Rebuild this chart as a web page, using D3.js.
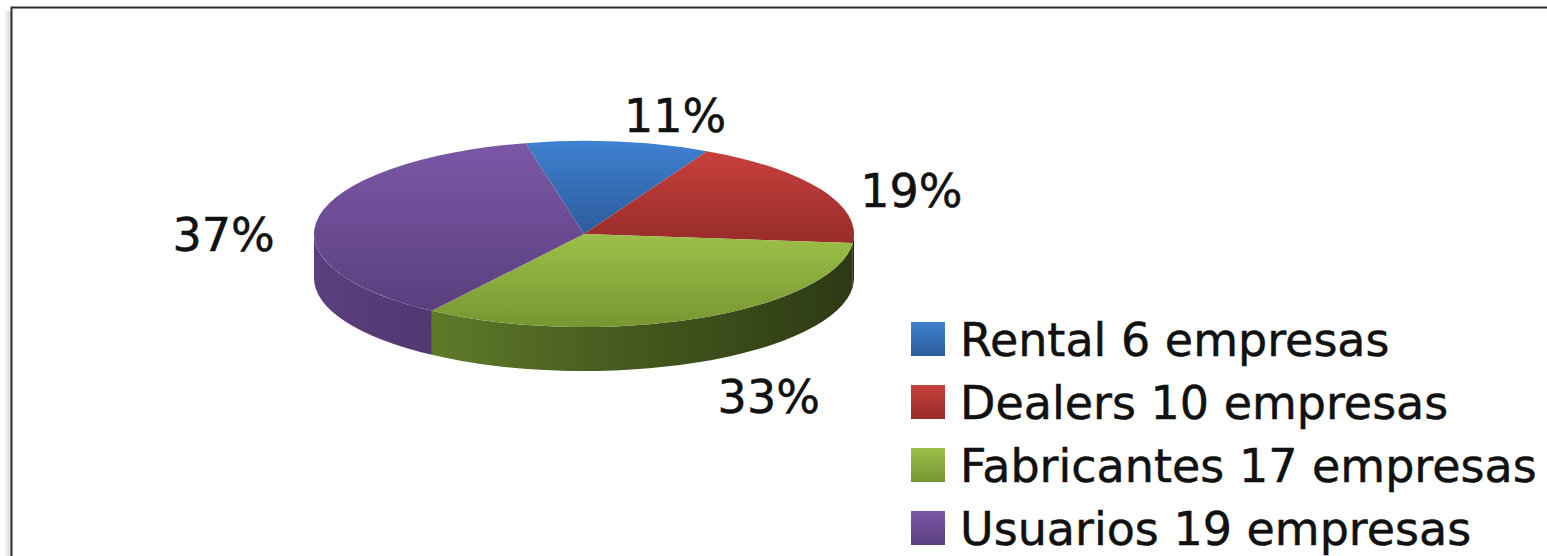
<!DOCTYPE html>
<html>
<head>
<meta charset="utf-8">
<script src="https://cdn.jsdelivr.net/npm/d3@7"></script>
<style>
  html, body { margin: 0; padding: 0; background: #fff; overflow: hidden; }
  text { font-family: "DejaVu Sans", Verdana, sans-serif; fill: #111; stroke: #111; stroke-width: 0.5px; }
</style>
</head>
<body>
<div id="chart"></div>
<script>
// data
const categories = ["Rental", "Dealers", "Fabricantes", "Usuarios"];
const shares = [11, 19, 33, 37];
const legendLabels = ["Rental 6 empresas", "Dealers 10 empresas", "Fabricantes 17 empresas", "Usuarios 19 empresas"];

// excel 2007 style gradient colours (light top, dark bottom) and side colours (left, right)
const topColors = [["#3f81d1", "#2c5c9b"], ["#c8403c", "#982c29"], ["#9cbf48", "#779632"], ["#7b58a6", "#5b3f7f"]];
const sideColors = [["#2c5690", "#16304f"], ["#8a2725", "#4a1312"], ["#6e8f30", "#2d3913"], ["#5a3f7e", "#34224c"]];

const width = 1547, height = 556;
const cx = 584, cy = 234, rx = 270, ry = 93, depth = 44;
const rotation = -12.5 * Math.PI / 180;   // first slice angle

const svg = d3.select("#chart")
    .append("svg")
    .attr("width", width)
    .attr("height", height);

const defs = svg.append("defs");

// frame + little shadow on the left
const shadow = defs.append("linearGradient").attr("id", "shadow");
shadow.append("stop").attr("offset", 0).attr("stop-color", "#fff");
shadow.append("stop").attr("offset", 1).attr("stop-color", "#d4d4d4");
svg.append("rect").attr("x", 4).attr("y", 11).attr("width", 7).attr("height", height)
    .attr("fill", "url(#shadow)");
svg.append("rect")
    .attr("x", 11.5).attr("y", 7.5)
    .attr("width", width + 20).attr("height", height + 20)
    .attr("fill", "#fff")
    .attr("stroke", "#2e2e2e")
    .attr("stroke-width", 2);

// gradients
categories.forEach((c, i) => {
    const g = defs.append("linearGradient").attr("id", "top" + i)
        .attr("x1", 0).attr("y1", 0).attr("x2", 0).attr("y2", 1);
    g.append("stop").attr("offset", 0).attr("stop-color", topColors[i][0]);
    g.append("stop").attr("offset", 1).attr("stop-color", topColors[i][1]);

    const s = defs.append("linearGradient").attr("id", "side" + i)
        .attr("gradientUnits", "userSpaceOnUse")
        .attr("x1", cx - rx).attr("y1", 0).attr("x2", cx + rx).attr("y2", 0);
    s.append("stop").attr("offset", 0).attr("stop-color", sideColors[i][0]);
    s.append("stop").attr("offset", 0.5).attr("stop-color", d3.interpolateRgb(sideColors[i][0], sideColors[i][1])(0.55));
    s.append("stop").attr("offset", 1).attr("stop-color", sideColors[i][1]);
});

// pie angles
const pie = d3.pie()
    .sort(null)
    .value(d => d)
    .startAngle(rotation)
    .endAngle(rotation + 2 * Math.PI);
const arcs = pie(shares);

const pt = (a, dy = 0) => [cx + rx * Math.sin(a), cy - ry * Math.cos(a) + dy];

function topPath(d) {
    const [x0, y0] = pt(d.startAngle), [x1, y1] = pt(d.endAngle);
    const large = d.endAngle - d.startAngle > Math.PI ? 1 : 0;
    return `M${cx},${cy}L${x0},${y0}A${rx},${ry} 0 ${large} 1 ${x1},${y1}Z`;
}

function sidePath(d) {
    const a = Math.max(d.startAngle, Math.PI / 2);
    const b = Math.min(d.endAngle, 3 * Math.PI / 2);
    if (b <= a) return null;
    const [x0, y0] = pt(a), [x1, y1] = pt(b);
    return `M${x0},${y0}A${rx},${ry} 0 0 1 ${x1},${y1}L${x1},${y1 + depth}` +
        `A${rx},${ry} 0 0 0 ${x0},${y0 + depth}Z`;
}

const pieG = svg.append("g");

// side walls first
pieG.selectAll(".side")
    .data(arcs.filter(d => sidePath(d)))
    .enter().append("path")
    .attr("class", "side")
    .attr("d", sidePath)
    .attr("fill", d => `url(#side${d.index})`);

// top faces
pieG.selectAll(".top")
    .data(arcs)
    .enter().append("path")
    .attr("class", "top")
    .attr("d", topPath)
    .attr("fill", d => `url(#top${d.index})`);

// percent labels, outside end
const mid = d => (d.startAngle + d.endAngle) / 2;
pieG.selectAll(".pct")
    .data(arcs)
    .enter().append("text")
    .attr("class", "pct")
    .attr("x", d => cx + (rx + 45) * Math.sin(mid(d)))
    .attr("y", d => cy + 28 - (ry + 55) * Math.cos(mid(d)))
    .attr("dy", "0.36em")
    .attr("text-anchor", d => Math.sin(mid(d)) >= 0 ? "start" : "end")
    .style("font-size", "46px")
    .text(d => d.data + "%");

// legend
const legendY = d3.scaleBand()
    .domain(categories)
    .range([322, 322 + 63 * categories.length]);

const legend = svg.append("g");
legend.selectAll("rect")
    .data(categories)
    .enter().append("rect")
    .attr("x", 911)
    .attr("y", d => legendY(d))
    .attr("width", 34)
    .attr("height", 34)
    .attr("fill", (d, i) => `url(#top${i})`);

legend.selectAll("text")
    .data(categories)
    .enter().append("text")
    .attr("x", 960)
    .attr("y", d => legendY(d) + 34)
    .style("font-size", "46px")
    .text((d, i) => legendLabels[i]);
</script>
</body>
</html>
